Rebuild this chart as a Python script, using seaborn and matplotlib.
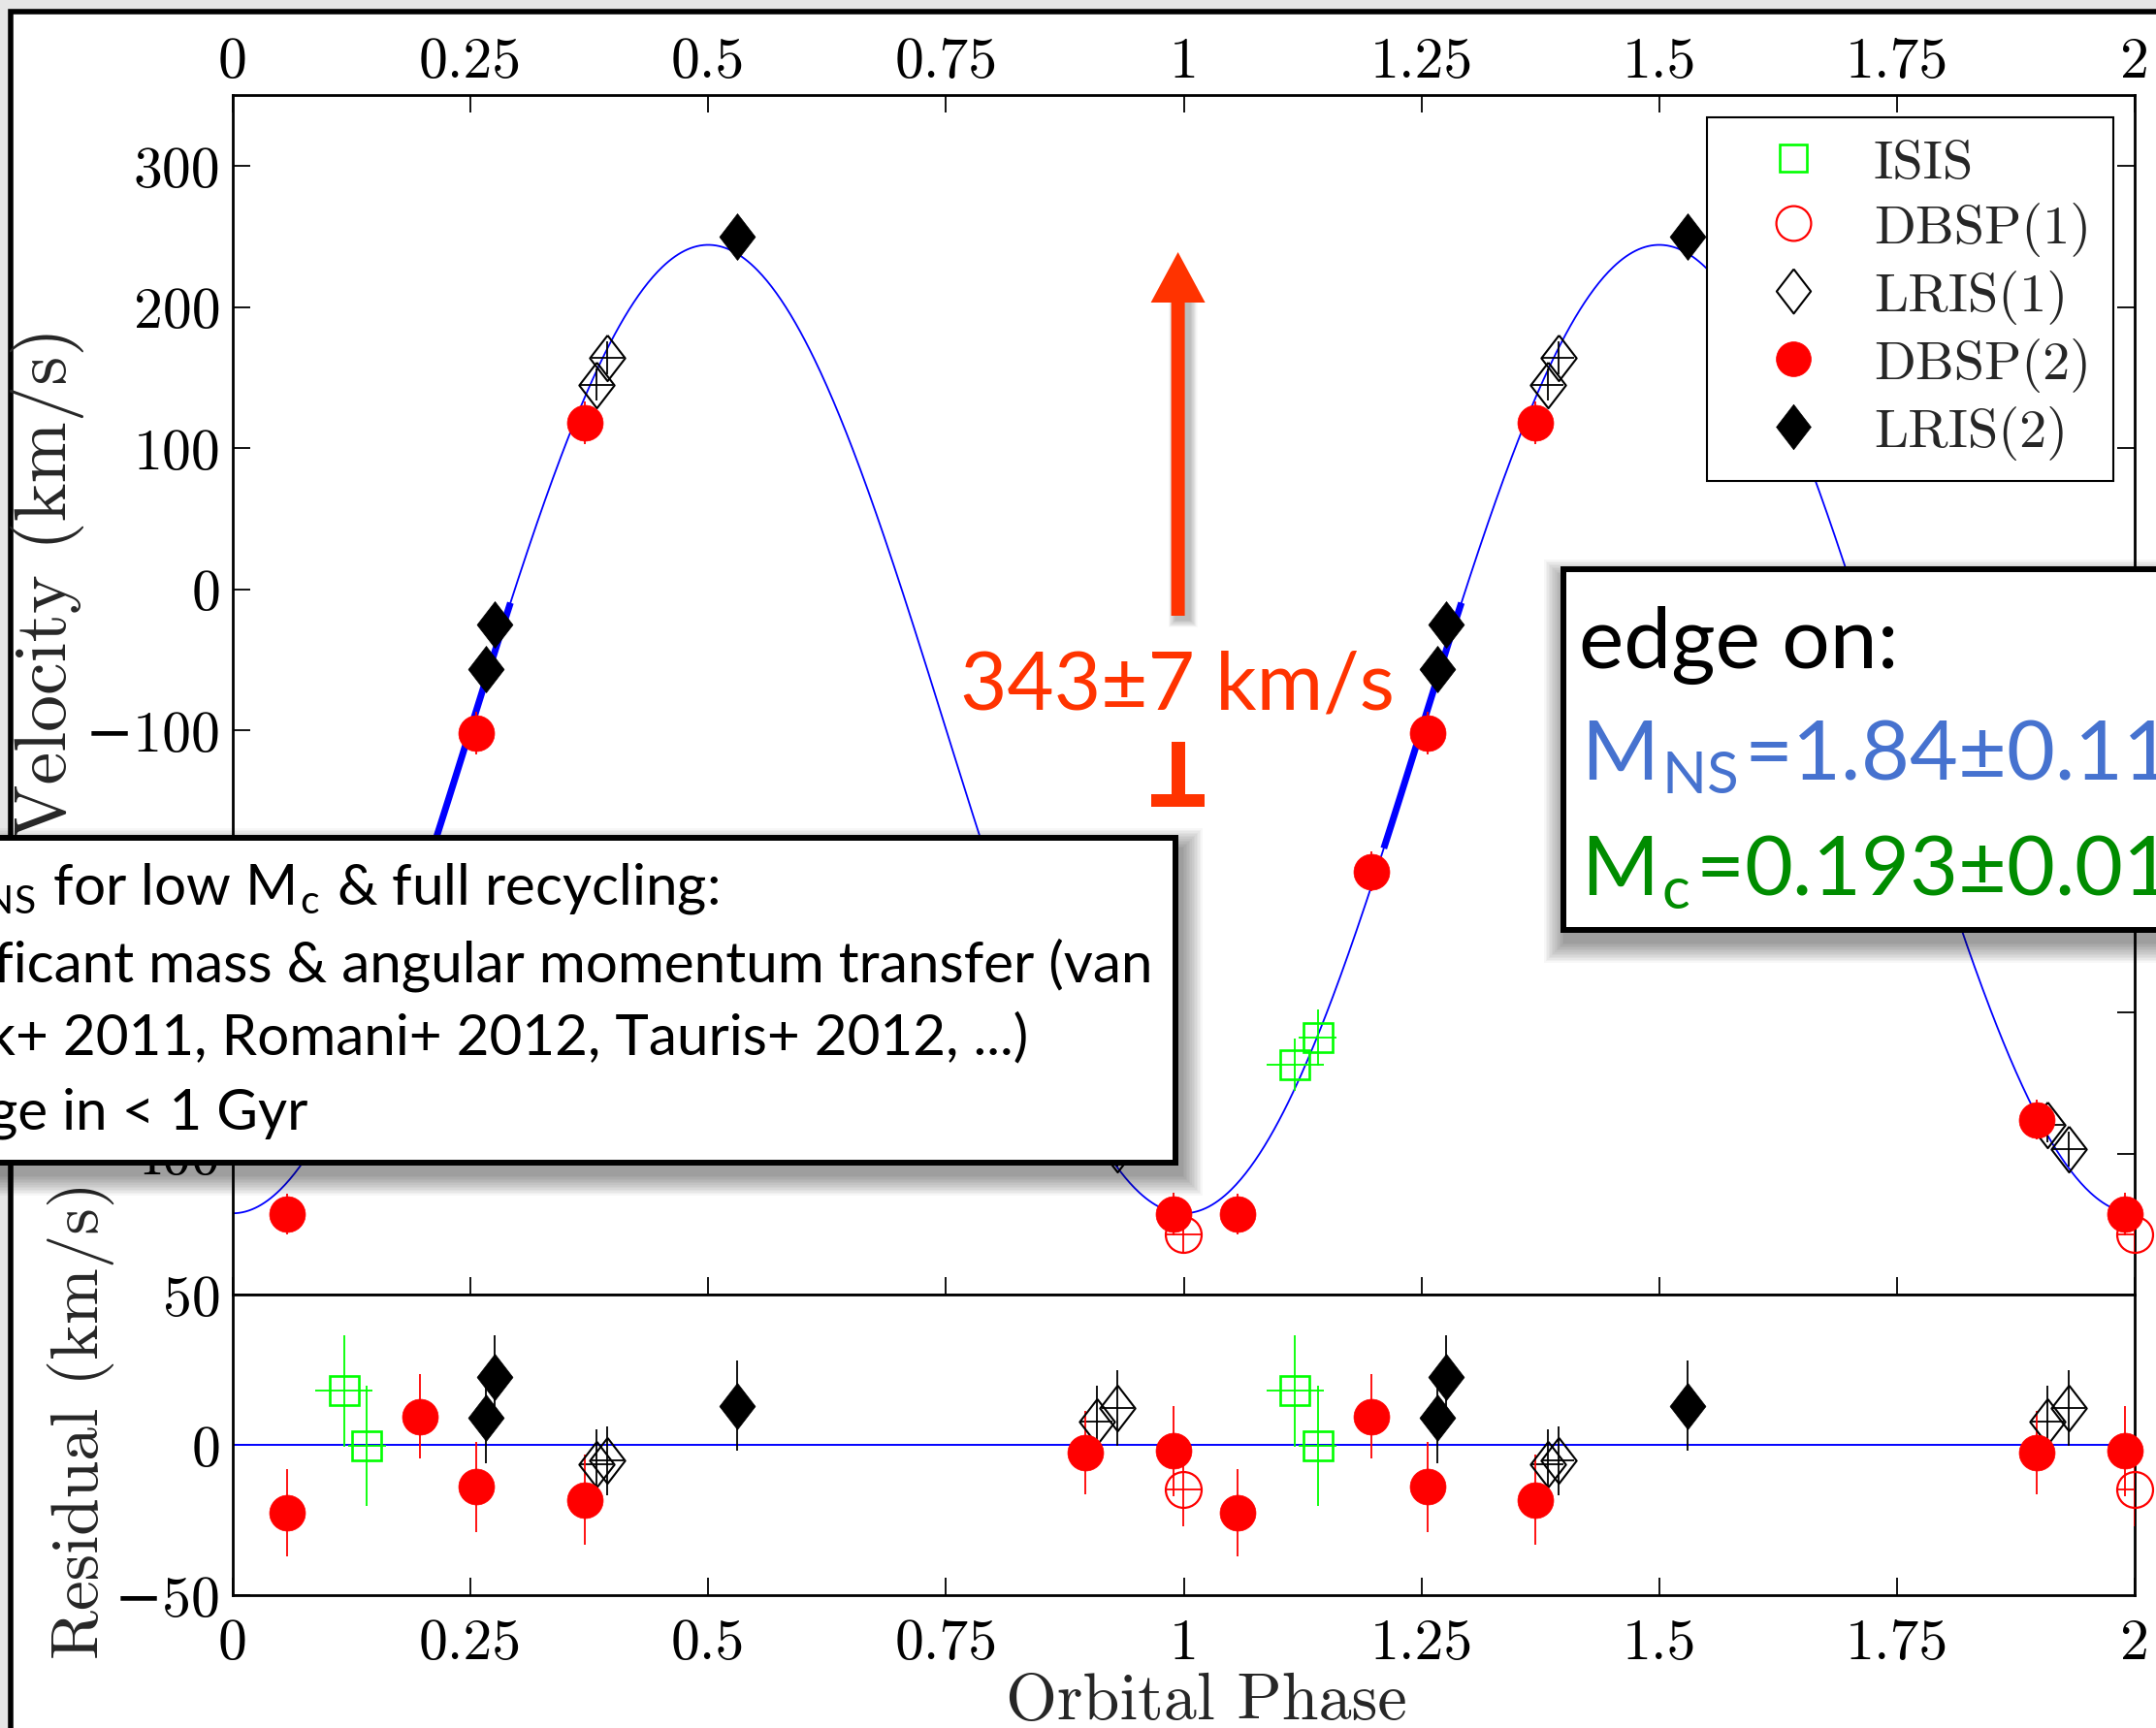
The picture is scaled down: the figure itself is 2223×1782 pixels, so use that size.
import numpy as np
import matplotlib
matplotlib.use("Agg")
import matplotlib.pyplot as plt
import seaborn as sns
from matplotlib.lines import Line2D
from matplotlib.patches import Rectangle, FancyArrow

# ---------------- data ----------------
# model radial-velocity curve parameters (fit shown by the blue line)
K_model = 343.2
gamma_model = -99.2
thick_phase = [0.2104, 0.292]          # thicker part of the fitted curve

# DBSP(2)  (red filled circles)
dbsp2_phase = [0.0567, 0.197, 0.256, 0.370, 0.8966, 0.9894]
dbsp2_rv = [-443, -200, -102, 118, -376, -443]
dbsp2_res = [-22.5, 9.5, -14.0, -18.3, -2.6, -2.0]
dbsp2_err = [14.5, 14.0, 15.0, 15.0, 14.0, 15.0]

# LRIS(2)  (black filled diamonds)
lris2_phase = [0.2662, 0.2754, 0.530]
lris2_rv = [-57, -25, 250]
lris2_res = [9.0, 22.5, 13.0]
lris2_err = [15.0, 14.0, 15.0]

# LRIS(1)  (black open diamonds)
lris1_phase = [0.3826, 0.394, 0.9085, 0.9305]
lris1_rv = [145, 164, -380, -397]
lris1_res = [-6.3, -5.3, 7.6, 12.3]
lris1_err = [11.5, 11.5, 12.0, 12.6]
lris1_xerr = [0.017, 0.017, 0.017, 0.017]

# DBSP(1)  (red open circles)
dbsp1_phase = [0.9995]
dbsp1_rv = [-457.5]
dbsp1_res = [-14.7]
dbsp1_err = [12.5]
dbsp1_xerr = [0.019]

# ISIS  (green open squares)
isis_phase = [0.117, 0.141]
isis_rv = [-337, -317.6]
isis_res = [18.0, -0.2]
isis_err = [18.5, 20.0]
isis_xerr = [0.030, 0.020]

phase_ticks = [0, 0.25, 0.5, 0.75, 1, 1.25, 1.5, 1.75, 2]
phase_labels = ["0", "0.25", "0.5", "0.75", "1", "1.25", "1.5", "1.75", "2"]
rv_ticks = [-400, -300, -200, -100, 0, 100, 200, 300]
res_ticks = [-50, 0, 50]

# ---------------- style ----------------
sns.set_theme(style="ticks")
plt.rcParams["font.family"] = ["cmr10", "DejaVu Serif"]
plt.rcParams["axes.unicode_minus"] = True
plt.rcParams["mathtext.fontset"] = "cm"

W, H = 2223, 1783
fig = plt.figure(figsize=(W / 100, H / 100), dpi=100)
fig.patch.set_facecolor("#e6e6e6")

# slide frame (white area with black border)
frame = Rectangle((10.5 / W, -0.1), 1.2, 1 - 13 / H + 0.1, transform=fig.transFigure,
                  facecolor="white", edgecolor="black", lw=4, zorder=-10)
fig.add_artist(frame)

L = 240 / W
R = 2201 / W
y_top = 1 - 99.3 / H
y_mid = 1 - 1336 / H
y_bot = 1 - 1646 / H
ax1 = fig.add_axes([L, y_mid, R - L, y_top - y_mid])
ax2 = fig.add_axes([L, y_bot, R - L, y_mid - y_bot])

DIAM = [(0, 1), (0.77, 0), (0, -1), (-0.77, 0), (0, 1)]
styles = {
    "ISIS": dict(marker="s", ms=21, mfc="none", mec="#00ff00", mew=1.9, ec="#00ff00"),
    "DBSP(1)": dict(marker="o", ms=26.6, mfc="none", mec="#ff0000", mew=1.6, ec="#ff0000"),
    "LRIS(1)": dict(marker=DIAM, ms=34, mfc="none", mec="black", mew=1.5, ec="black"),
    "DBSP(2)": dict(marker="o", ms=26.6, mfc="#ff0000", mec="#ff0000", mew=0.5, ec="#ff0000"),
    "LRIS(2)": dict(marker=DIAM, ms=34.5, mfc="black", mec="black", mew=0.5, ec="black"),
}

# model curve
phase_grid = np.linspace(0, 2, 1201)
model = gamma_model - K_model * np.cos(2 * np.pi * phase_grid)
sns.lineplot(x=phase_grid, y=model, ax=ax1, color="#0000ff", lw=1.3, estimator=None,
             sort=False, zorder=2)
for off in (0, 1):
    tg = np.linspace(thick_phase[0], thick_phase[1], 60) + off
    tm = gamma_model - K_model * np.cos(2 * np.pi * tg)
    sns.lineplot(x=tg, y=tm, ax=ax1, color="#0000ff", lw=5, estimator=None,
                 sort=False, zorder=2, solid_capstyle="butt")

sns.lineplot(x=[0, 2], y=[0, 0], ax=ax2, color="#0000ff", lw=1.4, estimator=None, zorder=2)


def draw(ax, ph, y, yerr, xerr, st):
    for off in (0, 1):
        x = np.array(ph) + off
        ax.errorbar(x, y, yerr=yerr, xerr=xerr, fmt="none", ecolor=st["ec"],
                    elinewidth=1.3, capsize=0, zorder=3)
        ax.plot(x, y, ls="none", marker=st["marker"], ms=st["ms"], mfc=st["mfc"],
                mec=st["mec"], mew=st["mew"], zorder=4, clip_on=False)


sets = [
    ("ISIS", isis_phase, isis_rv, isis_res, isis_err, isis_xerr),
    ("DBSP(1)", dbsp1_phase, dbsp1_rv, dbsp1_res, dbsp1_err, dbsp1_xerr),
    ("LRIS(1)", lris1_phase, lris1_rv, lris1_res, lris1_err, lris1_xerr),
    ("DBSP(2)", dbsp2_phase, dbsp2_rv, dbsp2_res, dbsp2_err, None),
    ("LRIS(2)", lris2_phase, lris2_rv, lris2_res, lris2_err, None),
]
for name, ph, rv, res, err, xerr in sets:
    draw(ax1, ph, rv, err, xerr, styles[name])
    draw(ax2, ph, res, err, xerr, styles[name])

# axes formatting
TICKFS = 43
for ax in (ax1, ax2):
    ax.set_xlim(0, 2)
    for s in ax.spines.values():
        s.set_linewidth(2)
        s.set_color("black")
        s.set_visible(True)
    ax.set_facecolor("white")

ax1.set_ylim(-500, 350)
ax1.set_xticks(phase_ticks)
ax1.set_xticklabels(phase_labels)
ax1.set_yticks(rv_ticks)
ax1.set_yticklabels([str(v).replace("-", "\u2212") for v in rv_ticks])
ax1.tick_params(axis="x", top=True, bottom=True, labeltop=True, labelbottom=False,
                direction="in", length=13, width=1.3, labelsize=TICKFS, pad=5, colors="black")
ax1.tick_params(axis="y", left=True, right=True, labelleft=True, labelright=False,
                direction="in", length=13, width=1.3, labelsize=TICKFS, pad=9, colors="black")
ax1.set_xlabel("")
ax1.set_ylabel("Radial Velocity (km/s)", fontsize=54.5)
ax1.yaxis.set_label_coords(-0.0974, 0.497)
ax1.yaxis.label.set_va("center")

ax2.set_ylim(-50, 50)
ax2.set_xticks(phase_ticks)
ax2.set_xticklabels(phase_labels)
ax2.set_yticks(res_ticks)
ax2.set_yticklabels([str(v).replace("-", "\u2212") for v in res_ticks])
ax2.tick_params(axis="x", top=False, bottom=True, direction="in", length=13, width=1.3,
                labelsize=TICKFS, pad=17, colors="black")
ax2.tick_params(axis="y", left=True, right=False, direction="in", length=13, width=1.3,
                labelsize=TICKFS, pad=9, colors="black")
ax2.set_ylabel("Residual (km/s)", fontsize=50)
ax2.yaxis.set_label_coords(-0.0798, 0.584)
ax2.yaxis.label.set_va("center")
ax2.set_xlabel("Orbital Phase", fontsize=49)
ax2.xaxis.set_label_coords(0.512, -0.41)
ax2.xaxis.label.set_va("baseline")

# legend
handles = []
for name in ["ISIS", "DBSP(1)", "LRIS(1)", "DBSP(2)", "LRIS(2)"]:
    st = styles[name]
    handles.append(Line2D([], [], ls="none", marker=st["marker"], ms=st["ms"] * 0.97,
                          mfc=st["mfc"], mec=st["mec"], mew=st["mew"], label=name))
leg = ax1.legend(handles=handles, loc="upper right",
                 bbox_to_anchor=(2178.6 / W, 1 - 121.7 / H), bbox_transform=fig.transFigure,
                 borderaxespad=0, fontsize=40.5, frameon=True, fancybox=False, shadow=False,
                 framealpha=1, edgecolor="black", borderpad=0.4, labelspacing=0.25,
                 handlelength=2.35, handletextpad=0.3, numpoints=1)
leg.get_frame().set_linewidth(1.5)
leg.set_zorder(20)

# ---------------- slide overlays (pixel coordinates, y downward) ----------------
ov = fig.add_axes([0, 0, 1, 1], zorder=10)
ov.set_xlim(0, W)
ov.set_ylim(H, 0)
ov.axis("off")
ov.patch.set_alpha(0)

SANS = ["Lato", "DejaVu Sans"]
ORANGE = "#ff3300"


def soft_shadow(x, y, w, h, dx, dy, blur, steps=14, alpha_total=0.45):
    for i in range(steps):
        g = blur * (1 - i / steps)
        ov.add_patch(Rectangle((x + dx - g, y + dy - g), w + 2 * g, h + 2 * g,
                               facecolor="black", alpha=alpha_total / steps, lw=0))


# arrow and T-bar
soft_shadow(1207.6, 300, 14, 336, 5, 4, 8, alpha_total=0.25)
ov.add_patch(FancyArrow(1214.6, 636, 0, -375, width=14, head_width=56, head_length=52,
                        length_includes_head=True, color=ORANGE, lw=0))
ov.add_patch(Rectangle((1207.6, 766), 14, 67, facecolor=ORANGE, lw=0))
ov.add_patch(Rectangle((1187, 820), 55, 13, facecolor=ORANGE, lw=0))
ov.text(1438, 732, "343\u00b17 km/s", color=ORANGE, fontsize=60, family=SANS,
        ha="right", va="baseline")

# "edge on" box
soft_shadow(1612, 588, 700, 372, 2, 12, 22)
ov.add_patch(Rectangle((1612, 588), 700, 372, facecolor="white", edgecolor="black", lw=4.3))
PM = "\u00b1"
ov.text(1628, 689, "edge on:", color="black", fontsize=63, family=SANS, va="baseline")
ov.text(1630, 804, r"M$_\mathregular{NS}$=1.84" + PM + r"0.11 M$_\odot$",
        color="#4672cf", fontsize=62, family=SANS, va="baseline")
ov.text(1630, 923, r"M$_\mathregular{c}$=0.193" + PM + r"0.01 M$_\odot$",
        color="#008c00", fontsize=62, family=SANS, va="baseline")

# lower-left box
soft_shadow(-60, 865, 1272, 335, 6, 12, 22)
ov.add_patch(Rectangle((-60, 865), 1272, 335, facecolor="white", edgecolor="black", lw=4.3))
BOXFS = 42
ov.text(741, 933, "\u2022 Large M$_\\mathregular{NS}$ for low M$_\\mathregular{c}$ & full recycling:",
        fontsize=BOXFS, family=SANS, ha="right", va="baseline", color="black")
ov.text(1188, 1013, "\u2192 significant mass & angular momentum transfer (van",
        fontsize=BOXFS, family=SANS, ha="right", va="baseline", color="black")
ov.text(1060, 1088, "Kerkwijk+ 2011, Romani+ 2012, Tauris+ 2012, ...)",
        fontsize=BOXFS, family=SANS, ha="right", va="baseline", color="black")
ov.text(317, 1165, "\u2192 large mass change in < 1 Gyr",
        fontsize=BOXFS, family=SANS, ha="right", va="baseline", color="black")

fig.savefig("out.png", dpi=100)
